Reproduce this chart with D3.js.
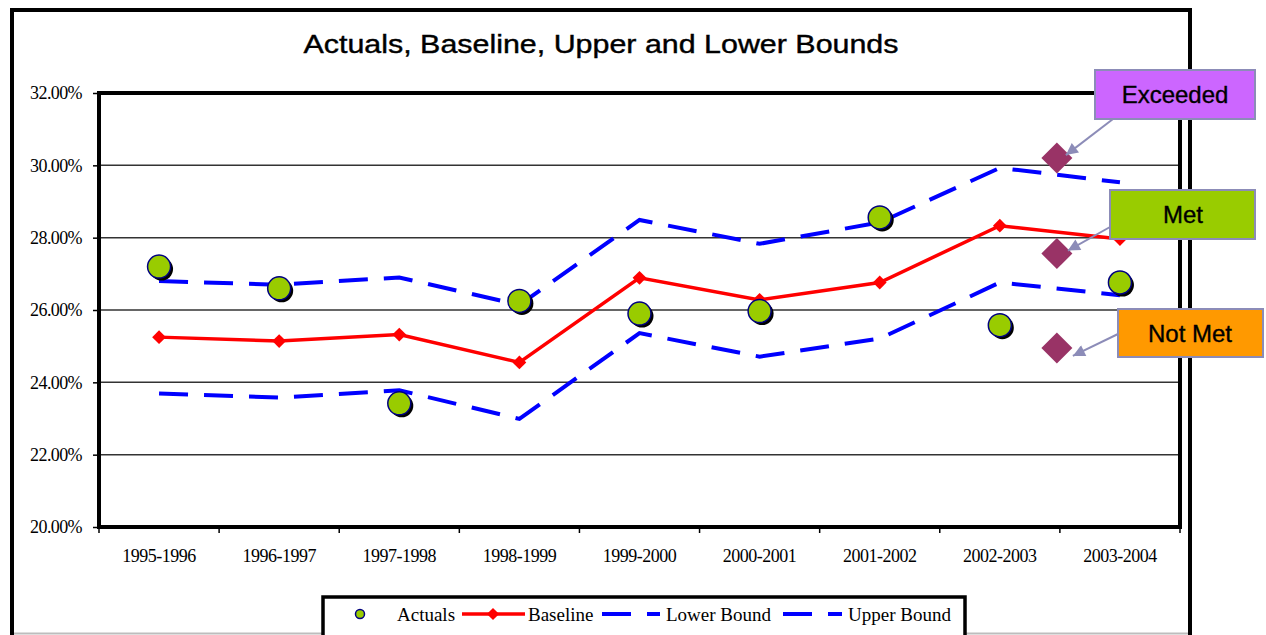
<!DOCTYPE html>
<html lang="en">
<head>
<meta charset="UTF-8">
<title>Actuals, Baseline, Upper and Lower Bounds</title>
<script src="https://d3js.org/d3.v7.min.js"></script>
<style>
    body { margin: 0; background: #ffffff; }
    svg { display: block; }
    .ylab, .xlab, .leg { font-family: 'Liberation Serif', 'Times New Roman', serif; fill: #000; }
</style>
</head>
<body>
<svg id="chart" width="1266" height="635"></svg>
<script>
// data
const years = ["1995-1996", "1996-1997", "1997-1998", "1998-1999", "1999-2000",
               "2000-2001", "2001-2002", "2002-2003", "2003-2004"];
const actuals  = [27.20, 26.60, 23.42, 26.25, 25.90, 25.97, 28.56, 25.58, 26.76];
const baseline = [25.25, 25.14, 25.32, 24.55, 26.89, 26.28, 26.76, 28.33, 27.96];
const upper    = [26.80, 26.70, 26.90, 26.14, 28.49, 27.83, 28.42, 29.93, 29.53];
const lower    = [23.69, 23.58, 23.78, 22.99, 25.36, 24.71, 25.21, 26.76, 26.41];
const yTicks   = [20, 22, 24, 26, 28, 30, 32];

// status markers placed between the last two years
const statusLabels = ["Exceeded", "Met", "Not Met"];
const statusValues = [30.20, 27.56, 24.95];
const statusColors = ["#cc66ff", "#99cc00", "#ff9900"];

const svg = d3.select("#chart");

const pLeft = 99, pRight = 1180, pTop = 93, pBottom = 527;

const x = d3.scaleBand().domain(years).range([pLeft, pRight]).padding(0);
const y = d3.scaleLinear().domain([20, 32]).range([pBottom, pTop]);
const cx = d => x(d) + x.bandwidth() / 2;

// outer chart border
svg.append("rect")
    .attr("x", 12).attr("y", 10)
    .attr("width", 1178).attr("height", 660)
    .attr("fill", "#fff")
    .attr("stroke", "#000").attr("stroke-width", 4);
svg.append("line")
    .attr("x1", 14).attr("x2", 1188).attr("y1", 633.5).attr("y2", 633.5)
    .attr("stroke", "#bdbdbd").attr("stroke-width", 2);

// title
svg.append("text")
    .attr("x", 601).attr("y", 53)
    .attr("text-anchor", "middle")
    .attr("font-family", "'Liberation Sans', Arial, sans-serif")
    .attr("font-size", 26)
    .attr("textLength", 595)
    .attr("lengthAdjust", "spacingAndGlyphs")
    .attr("stroke", "#000").attr("stroke-width", 0.4)
    .text("Actuals, Baseline, Upper and Lower Bounds");

// gridlines
svg.append("g")
    .selectAll("line")
    .data(yTicks.filter(t => t > 20 && t < 32))
    .join("line")
    .attr("x1", pLeft).attr("x2", pRight)
    .attr("y1", d => y(d)).attr("y2", d => y(d))
    .attr("stroke", "#333").attr("stroke-width", 1.5);

// y axis
const yAxis = svg.append("g")
    .attr("transform", `translate(${pLeft},0)`)
    .call(d3.axisLeft(y).tickValues(yTicks).tickSize(6).tickPadding(11)
        .tickFormat(d => d.toFixed(2) + "%"));
yAxis.select(".domain").remove();
yAxis.selectAll(".tick line").attr("stroke", "#000").attr("stroke-width", 1.5);
yAxis.selectAll(".tick text")
    .attr("class", "ylab")
    .attr("font-size", 18)
    .attr("letter-spacing", "-0.6")
    .attr("dy", "0.32em");

// x axis: labels at centres, ticks at boundaries
const xAxis = svg.append("g")
    .attr("transform", `translate(0,${pBottom})`)
    .call(d3.axisBottom(x).tickSize(0).tickPadding(22));
xAxis.select(".domain").remove();
xAxis.selectAll(".tick text")
    .attr("class", "xlab")
    .attr("font-size", 18)
    .attr("letter-spacing", "-0.5");
svg.append("g")
    .selectAll("line")
    .data(years.concat(["end"]))
    .join("line")
    .attr("x1", (d, i) => pLeft + i * x.bandwidth())
    .attr("x2", (d, i) => pLeft + i * x.bandwidth())
    .attr("y1", pBottom).attr("y2", pBottom + 6)
    .attr("stroke", "#000").attr("stroke-width", 1.5);

// plot frame
svg.append("rect")
    .attr("x", pLeft).attr("y", pTop)
    .attr("width", pRight - pLeft).attr("height", pBottom - pTop)
    .attr("fill", "none")
    .attr("stroke", "#000").attr("stroke-width", 4);

// bound lines
const line = d3.line().x((d, i) => cx(years[i])).y(d => y(d));
[lower, upper].forEach(s => {
    svg.append("path")
        .attr("d", line(s))
        .attr("fill", "none")
        .attr("stroke", "#0000ff")
        .attr("stroke-width", 4)
        .attr("stroke-dasharray", "29,16");
});

// baseline
svg.append("path")
    .attr("d", line(baseline))
    .attr("fill", "none")
    .attr("stroke", "#ff0000")
    .attr("stroke-width", 3.5);
svg.append("g")
    .selectAll("path")
    .data(baseline)
    .join("path")
    .attr("d", d3.symbol(d3.symbolSquare, 95))
    .attr("transform", (d, i) => `translate(${cx(years[i])},${y(d)}) rotate(45)`)
    .attr("fill", "#ff0000");

// actuals with shadow
const act = svg.append("g");
act.selectAll("circle.sh")
    .data(actuals)
    .join("circle")
    .attr("class", "sh")
    .attr("cx", (d, i) => cx(years[i]) + 2.5)
    .attr("cy", d => y(d) + 2.5)
    .attr("r", 11.5)
    .attr("fill", "#000");
act.selectAll("circle.dot")
    .data(actuals)
    .join("circle")
    .attr("class", "dot")
    .attr("cx", (d, i) => cx(years[i]))
    .attr("cy", d => y(d))
    .attr("r", 11.5)
    .attr("fill", "#99cc00")
    .attr("stroke", "#000080")
    .attr("stroke-width", 1.5);

// status diamonds and callouts
const sx = x("2003-2004") - 3;
svg.append("defs").append("marker")
    .attr("id", "arr")
    .attr("viewBox", "0 0 10 10")
    .attr("refX", 10).attr("refY", 5)
    .attr("markerWidth", 14).attr("markerHeight", 12)
    .attr("markerUnits", "userSpaceOnUse")
    .attr("orient", "auto")
    .append("path")
    .attr("d", "M0,0 L10,5 L0,10 Z")
    .attr("fill", "#8c8cb8");

const boxes = [
    { x: 1095, y: 70,  w: 160, h: 49, from: [1113, 119], tip: [9, -3],  tx: 1175 },
    { x: 1110, y: 190, w: 145, h: 49, from: [1110, 227], tip: [11, -3], tx: 1183 },
    { x: 1118, y: 309, w: 145, h: 48, from: [1118, 334], tip: [16, 8],  tx: 1190 }
];

svg.append("g")
    .selectAll("path")
    .data(statusValues)
    .join("path")
    .attr("d", d3.symbol(d3.symbolSquare, 480))
    .attr("transform", d => `translate(${sx},${y(d)}) rotate(45)`)
    .attr("fill", "#993366");

statusLabels.forEach((lab, i) => {
    const b = boxes[i];
    svg.append("line")
        .attr("x1", b.from[0]).attr("y1", b.from[1])
        .attr("x2", sx + b.tip[0]).attr("y2", y(statusValues[i]) + b.tip[1])
        .attr("stroke", "#8c8cb8").attr("stroke-width", 2)
        .attr("marker-end", "url(#arr)");
    svg.append("rect")
        .attr("x", b.x).attr("y", b.y)
        .attr("width", b.w).attr("height", b.h)
        .attr("fill", statusColors[i])
        .attr("stroke", "#8c8cb8").attr("stroke-width", 2);
    svg.append("text")
        .attr("x", b.tx).attr("y", b.y + b.h / 2 + 8.5)
        .attr("text-anchor", "middle")
        .attr("font-family", "'Liberation Sans', Arial, sans-serif")
        .attr("font-size", 24)
        .attr("fill", "#000")
        .attr("stroke", "#000").attr("stroke-width", 0.35)
        .text(lab);
});

// legend
const leg = svg.append("g");
leg.append("rect")
    .attr("x", 323).attr("y", 597)
    .attr("width", 642).attr("height", 60)
    .attr("fill", "#fff")
    .attr("stroke", "#000").attr("stroke-width", 3.5);
leg.append("circle")
    .attr("cx", 360).attr("cy", 614).attr("r", 4.5)
    .attr("fill", "#99cc00").attr("stroke", "#000080").attr("stroke-width", 1.5);
leg.append("line")
    .attr("x1", 462).attr("x2", 525).attr("y1", 614).attr("y2", 614)
    .attr("stroke", "#ff0000").attr("stroke-width", 3.5);
leg.append("path")
    .attr("d", d3.symbol(d3.symbolSquare, 75))
    .attr("transform", "translate(493,614) rotate(45)")
    .attr("fill", "#ff0000");
[[602, 660], [783, 842]].forEach(([a, b]) => {
    leg.append("line")
        .attr("x1", a).attr("x2", b).attr("y1", 614).attr("y2", 614)
        .attr("stroke", "#0000ff").attr("stroke-width", 4)
        .attr("stroke-dasharray", "29,16");
});
const legLabels = [["Actuals", 397], ["Baseline", 528], ["Lower Bound", 666], ["Upper Bound", 848]];
leg.selectAll("text")
    .data(legLabels)
    .join("text")
    .attr("class", "leg")
    .attr("x", d => d[1]).attr("y", 621)
    .attr("font-size", 19)
    .text(d => d[0]);
</script>
</body>
</html>
